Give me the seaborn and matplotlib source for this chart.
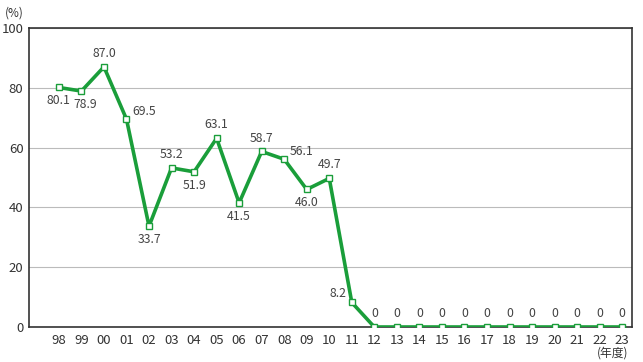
import pandas as pd
import seaborn as sns
import matplotlib.pyplot as plt

# fiscal years and values (%)
years = ["98", "99", "00", "01", "02", "03", "04", "05", "06", "07", "08", "09", "10",
         "11", "12", "13", "14", "15", "16", "17", "18", "19", "20", "21", "22", "23"]
values = [80.1, 78.9, 87.0, 69.5, 33.7, 53.2, 51.9, 63.1, 41.5, 58.7, 56.1, 46.0, 49.7,
          8.2, 0, 0, 0, 0, 0, 0, 0, 0, 0, 0, 0, 0]
labels = ["80.1", "78.9", "87.0", "69.5", "33.7", "53.2", "51.9", "63.1", "41.5", "58.7",
          "56.1", "46.0", "49.7", "8.2"] + ["0"] * 12
# where each label sits relative to its point
where = ["below", "below", "above", "right", "below", "above", "below", "above", "below",
         "above", "right", "below", "above", "left"] + ["above"] * 12

df = pd.DataFrame({"idx": range(len(years)), "value": values})

sns.set_style("white")
plt.rcParams["font.family"] = ["Noto Sans CJK JP", "DejaVu Sans"]

fig = plt.figure(figsize=(6.43, 3.62), dpi=100)
ax = fig.add_axes([0.045, 0.0967, 0.938, 0.826])

green = "#1a9e3a"
sns.lineplot(data=df, x="idx", y="value", ax=ax, color=green, linewidth=2.6,
             marker="s", markersize=4.5, markerfacecolor="white",
             markeredgecolor=green, markeredgewidth=1.0, sort=False, zorder=3)

offsets = {"above": (0, 5, "center", "bottom"), "below": (0, -5, "center", "top"),
           "right": (4, 1, "left", "bottom"), "left": (-4, 2, "right", "bottom")}
for i, (v, lab, w) in enumerate(zip(values, labels, where)):
    dx, dy, ha, va = offsets[w]
    if i == 1:
        dx = 3  # nudge to keep clear of the 80.1 label
    ax.annotate(lab, (i, v), xytext=(dx, dy), textcoords="offset points",
                ha=ha, va=va, fontsize=8.8, color="#444444")

ax.set_xlim(-1.33, 25.44)
ax.set_ylim(0, 100)
ax.set_yticks([0, 20, 40, 60, 80, 100])
ax.set_yticklabels(["0", "20", "40", "60", "80", "100"], fontsize=9.5, color="#333333")
ax.set_xticks(range(len(years)))
ax.set_xticklabels(years, fontsize=9.5, color="#333333")
ax.set_xticks([i - 0.5 for i in range(len(years))], minor=True)
ax.tick_params(axis="x", which="major", length=0, pad=5)
ax.tick_params(axis="x", which="minor", direction="in", length=6, color="#666666", width=1)
ax.tick_params(axis="y", length=0, pad=4)
ax.grid(axis="y", color="#bbbbbb", linewidth=0.8)
ax.set_xlabel("")
ax.set_ylabel("")
for s in ax.spines.values():
    s.set_color("#333333")
    s.set_linewidth(1.2)

fig.text(0.008, 0.965, "(%)", fontsize=8.5, color="#333333", ha="left", va="center")
fig.text(0.952, 0.025, "(年度)", fontsize=8.5, color="#333333", ha="center", va="center")

fig.savefig("out.png", dpi=100)
